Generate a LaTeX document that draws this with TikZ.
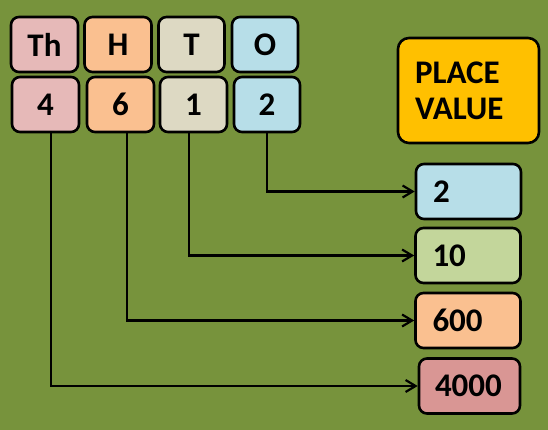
\documentclass[tikz,border=0pt]{standalone}
\usepackage{fontspec}
\setmainfont{Carlito}
\usepackage{tikz}
\usetikzlibrary{calc, arrows.meta, positioning}

\definecolor{bggreen}{HTML}{77933C}
\definecolor{thpink}{HTML}{E6B9B8}
\definecolor{horange}{HTML}{FAC090}
\definecolor{tbeige}{HTML}{DDD9C3}
\definecolor{oblue}{HTML}{B7DEE8}
\definecolor{pvgold}{HTML}{FFC000}
\definecolor{tengreen}{HTML}{C3D69B}
\definecolor{thousred}{HTML}{D99694}

\tikzset{
    digitbox/.style={draw=black, line width=2.6pt, rounded corners=8pt, minimum width=66pt, minimum height=55pt, inner sep=0pt, font=\fontsize{33}{38}\selectfont\bfseries},
    valuebox/.style={draw=black, line width=2.6pt, rounded corners=8pt, minimum height=55pt, text width=71pt, inner xsep=17pt, inner ysep=0pt, align=left, font=\fontsize{33}{38}\selectfont\bfseries},
    linkarrow/.style={-{Straight Barb[length=10pt, width=12pt, line width=2.2pt]}, line width=2.4pt}
}

\begin{document}
\begin{tikzpicture}[x=1pt, y=-1pt]
    \fill[bggreen] (0,0) rectangle (548,430);
    \useasboundingbox (0,0) rectangle (548,430);

    % place headings
    \node[digitbox, fill=thpink, minimum width=67pt] (th) at (44.5,44.5) {Th};
    \node[digitbox, fill=horange, minimum width=67pt] (h) at (118,44.5) {H};
    \node[digitbox, fill=tbeige] (t) at (191.5,44.5) {T};
    \node[digitbox, fill=oblue] (o) at (265,44.5) {O};

    % digits
    \node[digitbox, fill=thpink, minimum width=67pt] (d4) at (45.5,104.5) {4};
    \node[digitbox, fill=horange, minimum width=67pt] (d6) at (120.5,104.5) {6};
    \node[digitbox, fill=tbeige, minimum width=67pt] (d1) at (193.5,104.5) {1};
    \node[digitbox, fill=oblue] (d2) at (267,104.5) {2};

    \node[draw=black, line width=2.6pt, rounded corners=11pt, fill=pvgold, minimum height=105pt, text width=107pt, inner xsep=17pt, align=left, font=\fontsize{33}{36}\selectfont\bfseries] (pv) at (468.5,90.5) {PLACE\\VALUE};

    % values
    \node[valuebox, fill=oblue] (v2) at (468.5,191.5) {2};
    \node[valuebox, fill=tengreen] (v10) at (468,255.5) {10};
    \node[valuebox, fill=horange] (v600) at (468,320.5) {600};
    \node[valuebox, fill=thousred, text width=69pt, inner xsep=16pt] (v4000) at (469.5,386) {4000};

    \draw[linkarrow] (d2.south) |- (v2.west);
    \draw[linkarrow] ([xshift=-4.5pt]d1.south) |- (v10.west);
    \draw[linkarrow] ([xshift=6.5pt]d6.south) |- (v600.west);
    \draw[linkarrow] ([xshift=5.5pt]d4.south) |- (v4000.west);
\end{tikzpicture}
\end{document}
